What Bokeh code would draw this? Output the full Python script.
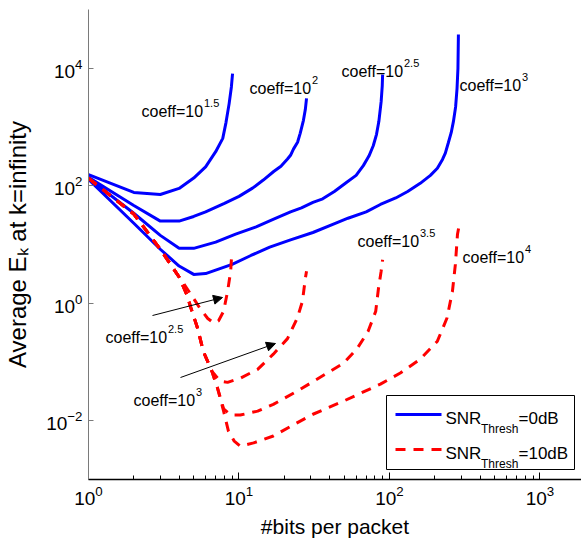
import numpy as np
from bokeh.plotting import figure
from bokeh.models import (FixedTicker, Label, Arrow, NormalHead, BoxAnnotation, Range1d)
from bokeh.embed import file_html
from bokeh.resources import INLINE

# ---------------- data ----------------
# SNR_Thresh = 0 dB (solid blue), coeff = 10^1.5, 10^2, 10^2.5, 10^3
bits_b15 = [1, 2, 3, 4, 5, 6, 7, 7.8, 8.2, 8.6, 8.9, 9.06]
ek_b15 = [155, 77, 71, 90, 135, 210, 380, 640, 1200, 2500, 4800, 8100]

bits_b20 = [1, 2, 3, 4, 5, 6, 8, 10, 12.3, 14.5, 17, 19, 21, 22, 23, 24.5, 25.5, 26.8, 27.6, 28.1]
ek_b20 = [139, 46, 25, 25, 30, 36, 50, 66, 91, 125, 175, 215, 285, 330, 420, 550, 780, 1300, 2000, 3070]

bits_b25 = [1, 2, 3, 4, 5, 7, 9.5, 13, 17, 22, 26, 31, 36, 43, 52, 60, 67, 73, 78, 82, 85, 88, 89.5, 90]
ek_b25 = [134, 34, 14.3, 8.6, 8.6, 11, 15, 20, 27, 36, 42, 52, 60, 80, 115, 150, 220, 320, 480, 750, 1250,
          2700, 5000, 7800]

bits_b30 = [1, 2, 3, 4, 5, 6, 9, 12, 16, 22, 31, 42, 53, 70, 87, 110, 132, 160, 187, 208, 225, 235, 246,
            257, 266, 275, 281, 285, 287]
ek_b30 = [128, 23, 8.3, 4.3, 3.1, 3.2, 4.6, 6.5, 9, 12, 16, 22, 28, 36, 48, 62, 80, 110, 150, 198, 280, 360,
          540, 800, 1245, 2200, 4500, 10000, 37600]

# SNR_Thresh = 10 dB (dashed red), coeff = 10^2.5, 10^3, 10^3.5, 10^4
bits_r25 = [1, 2, 3, 4, 4.5, 5, 5.5, 6.2, 6.8, 7.3, 7.9, 8.4, 8.8, 8.95]
ek_r25 = [134, 33, 8.3, 2.8, 1.8, 1.2, 0.82, 0.55, 0.46, 0.5, 0.73, 1.6, 3.5, 6.8]

bits_r30 = [1, 2, 3, 4, 4.5, 4.8, 5.3, 5.8, 6.6, 7.5, 8.4, 10.2, 13.3, 16.9, 21, 24.4, 26.4, 27.6, 28.1]
ek_r30 = [134, 33, 8.3, 2.8, 1.4, 0.82, 0.38, 0.15, 0.07, 0.047, 0.045, 0.053, 0.075, 0.136, 0.25, 0.56,
          1.08, 2.66, 3.5]

bits_r35 = [1, 2, 3, 4, 4.5, 4.8, 5.3, 5.8, 6.6, 7.2, 7.9, 8.8, 10.2, 13.3, 16.9, 24.4, 30, 40.5, 49.5, 61,
            72, 81, 84.5, 88, 90]
ek_r35 = [134, 33, 8.3, 2.8, 1.4, 0.82, 0.38, 0.15, 0.07, 0.036, 0.016, 0.0125, 0.0125, 0.0146, 0.019,
          0.032, 0.044, 0.07, 0.095, 0.17, 0.33, 0.73, 1.8, 3.5, 5.5]

bits_r40 = [1, 2, 3, 4, 4.5, 4.8, 5.3, 5.8, 6.6, 7.2, 7.9, 8.5, 9.3, 10.2, 12.5, 16.9, 22, 31, 49.5, 87,
            118, 160, 208, 241, 262, 274, 283, 292]
ek_r40 = [134, 33, 8.3, 2.8, 1.4, 0.82, 0.38, 0.15, 0.07, 0.036, 0.0146, 0.0067, 0.0045, 0.0037, 0.0042,
          0.0055, 0.008, 0.0129, 0.0216, 0.042, 0.065, 0.112, 0.226, 0.56, 1.6, 4.6, 15, 23]

x_major_ticks = [1, 10, 100, 1000]
y_major_ticks = [1e-2, 1, 1e2, 1e4]
x_title = "#bits per packet"
y_title = "Average E\u2096 at k=infinity"
legend_labels = [("SNR", "Thresh", "=0dB"), ("SNR", "Thresh", "=10dB")]
coeff_exps_top = ["1.5", "2", "2.5", "3", "3.5", "4"]
coeff_exps_arrow = ["2.5", "3"]

# ---------------- figure ----------------
FONT = "Liberation Sans"
XMAX = 1887.0
LOG_XMAX = np.log10(XMAX)
BLUE = "#0000ff"
RED = "#ff0000"
DASH = "10 8"

p = figure(width=581, height=542, x_axis_type="log", y_axis_type="log",
           x_range=Range1d(1, XMAX), y_range=Range1d(1e-3, 1e5),
           output_backend="svg", toolbar_location=None,
           min_border_left=88, min_border_right=0, min_border_top=9, min_border_bottom=63)
p.outline_line_color = None
p.xgrid.visible = False
p.ygrid.visible = False
p.background_fill_color = "white"
p.border_fill_color = "white"

# page-pixel helpers for annotations (frame: left 88, right 581, top 9, bottom 479)
def X(px):
    return 10 ** ((px - 88) / 493 * LOG_XMAX)

def Y(py):
    return 10 ** (5 - (py - 9) / 470 * 8)

xa = p.xaxis[0]
xa.ticker = FixedTicker(ticks=x_major_ticks,
                        minor_ticks=[k * 10 ** d for d in range(0, 4) for k in range(2, 10)])
xa.major_tick_in = 7
xa.major_tick_out = 0
xa.minor_tick_in = 4
xa.minor_tick_out = 0
xa.axis_line_color = "black"
xa.axis_line_width = 1.5
xa.major_tick_line_color = "black"
xa.minor_tick_line_color = "black"
xa.major_label_text_font = FONT
xa.major_label_text_font_size = "19px"
xa.major_label_text_color = "black"
xa.major_label_standoff = 6
xa.axis_label = x_title
xa.axis_label_text_font = FONT
xa.axis_label_text_font_size = "21px"
xa.axis_label_text_font_style = "normal"
xa.axis_label_text_color = "black"
xa.axis_label_standoff = 7

ya = p.yaxis[0]
ya.ticker = FixedTicker(ticks=y_major_ticks, minor_ticks=[])
ya.major_tick_in = 5
ya.major_tick_out = 0
ya.minor_tick_in = 0
ya.minor_tick_out = 0
ya.axis_line_color = "#7a7a7a"
ya.major_tick_line_color = "#7a7a7a"
ya.major_label_text_font = FONT
ya.major_label_text_font_size = "19px"
ya.major_label_text_color = "black"
ya.major_label_standoff = 6
ya.axis_label = y_title
ya.axis_label_text_font = FONT
ya.axis_label_text_font_size = "24px"
ya.axis_label_text_font_style = "normal"
ya.axis_label_text_color = "black"
ya.axis_label_standoff = 12

blue_sets = [(bits_b15, ek_b15), (bits_b20, ek_b20), (bits_b25, ek_b25), (bits_b30, ek_b30)]
red_sets = [(bits_r25, ek_r25), (bits_r30, ek_r30), (bits_r35, ek_r35), (bits_r40, ek_r40)]
for x, y in blue_sets:
    p.line(x, y, line_color=BLUE, line_width=3)
for x, y in red_sets:
    p.line(x, y, line_color=RED, line_width=3, line_dash=DASH)

# ---------------- legend (drawn as annotations so that subscripts are possible) ----------------
p.add_layout(BoxAnnotation(left=X(386), right=X(574), top=Y(395), bottom=Y(469),
                           fill_color="white", fill_alpha=1.0, line_color="black", line_alpha=1.0,
                           line_width=1, level="annotation"))
for py, color, dash in [(414, BLUE, "solid"), (449, RED, DASH)]:
    p.add_layout(Arrow(start=None, end=None, x_start=X(395), y_start=Y(py), x_end=X(441), y_end=Y(py),
                       line_color=color, line_width=3, line_dash=dash, level="overlay"))

def add_text(px, py, text, size, **kw):
    p.add_layout(Label(x=X(px), y=Y(py), text=text, text_font=FONT, text_font_size=size,
                       text_color="black", text_baseline="alphabetic", text_align="left",
                       level="overlay", **kw))

for (main, sub, tail), base in zip(legend_labels, [418, 453]):
    add_text(445, base, main, "17px")
    add_text(480.5, base + 10, sub, "12px")
    add_text(518, base, tail, "17px")

# ---------------- coeff annotations ----------------
top_pos = [(141, 111), (249, 88), (341, 71), (459, 85), (357, 241), (462, 257)]
arrow_pos = [(105, 337), (133, 400)]
for exp, (px, py) in list(zip(coeff_exps_top, top_pos)) + list(zip(coeff_exps_arrow, arrow_pos)):
    add_text(px, py, "coeff=10", "16px")
    add_text(px, py, exp, "11px", x_offset=62.5, y_offset=9)

for (x0, y0, x1, y1) in [(152, 315, 222, 297), (180, 377, 275, 343)]:
    p.add_layout(Arrow(end=NormalHead(size=9, fill_color="black", line_color="black", line_width=1),
                       x_start=X(x0), y_start=Y(y0), x_end=X(x1), y_end=Y(y1),
                       line_color="black", line_width=1))

open("out.html", "w").write(file_html(p, INLINE))
